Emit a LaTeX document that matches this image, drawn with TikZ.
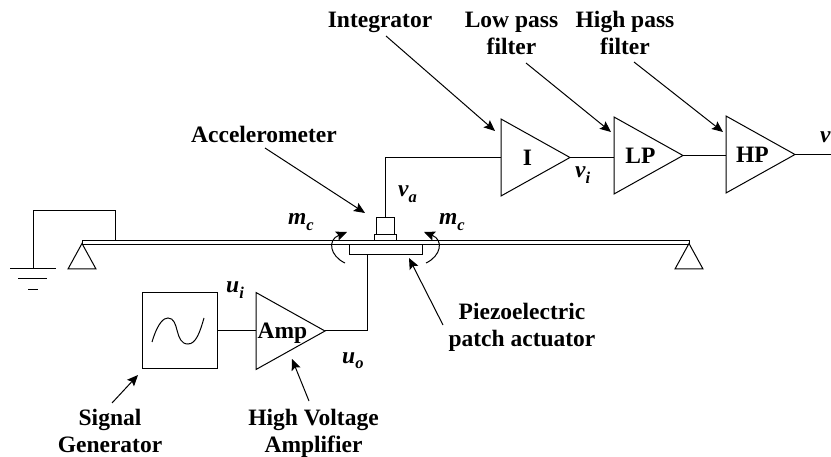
\documentclass[tikz,border=0pt]{standalone}
\usepackage{fontspec}
\setmainfont{Liberation Serif}
\usetikzlibrary{arrows.meta}
\usetikzlibrary{shapes.geometric}
\newcommand{\sigsym}[2]{{\bfseries\itshape #1\raisebox{-.22em}{\fontsize{16.5}{16.5}\selectfont #2}}}
\tikzset{
	wire/.style={line width=1pt},
	pointer/.style={line width=1pt,-{Stealth[length=11pt,width=9.5pt,inset=2pt]}},
	capt/.style={font=\fontsize{23.5}{27}\selectfont\bfseries,align=center,anchor=base,inner sep=0pt},
	amptri/.style={draw,line width=1pt,isosceles triangle,isosceles triangle stretches,shape border rotate=0,
		minimum width=77pt,minimum height=69pt,inner sep=0pt,outer sep=0pt,anchor=lower side},
	part/.style={draw,line width=1pt,fill=white,rectangle,inner sep=0pt,outer sep=0pt}
}
\begin{document}
\begin{tikzpicture}[x=1pt,y=-1pt]
	\useasboundingbox (0,0) rectangle (831,457);
	% beam and what sits on it
	\node[part,minimum width=607pt,minimum height=3.5pt] (beam) at (385.5,242.5) {};
	\node[part,minimum width=73pt,minimum height=10pt] (patch) at (385.5,250) {};
	\node[part,minimum width=22pt,minimum height=6pt] (base) at (385,237.5) {};
	\node[part,minimum width=18pt,minimum height=17pt] (sensor) at (385,226) {};
	\foreach \x in {82,689} {
		\draw[wire] (\x,243.5) -- (\x-14,269) -- (\x+14,269) -- cycle;
	}
	% ground
	\coordinate (gnd) at (33,269);
	\coordinate (beamtap) at (115,241);
	\draw[wire] (gnd) -- (33,211) -- (115,211) -- (beamtap);
	\draw[wire] (10,269) -- (56,269);
	\draw[wire] (18,279) -- (47,279);
	\draw[wire] (28,290) -- (38,290);
	% triangles
	\foreach \n/\t/\x/\y in {int/I/501/157.5,low/LP/614/155.5,high/HP/726/154.5,amp/Amp/256/331} {
		\node[amptri] (\n) at (\x,\y) {};
		\node[capt] (\n text) at (\x+26.5,\y+8) {\t};
	}
	% generator
	\node[part,minimum width=75pt,minimum height=76pt] (gen) at (179.5,331) {};
	\draw[wire] (152,342) .. controls (158,322) and (164,318) .. (168,318) .. controls (180,318) and (174,344) .. (188,344) .. controls (196,344) and (200,332) .. (204,318);
	% connections
	\coordinate (patchwire) at (367,255);
	\coordinate (vout) at (831,154.5);
	\draw[wire] (sensor.north) |- (int.lower side);
	\draw[wire] (int.apex) -- (low.lower side |- int.apex);
	\draw[wire] (low.apex) -- (high.lower side |- low.apex);
	\draw[wire] (high.apex) -- (vout);
	\draw[wire] (gen.east) -- (amp.lower side);
	\draw[wire] (amp.apex) -| (patchwire);
	% captions
	\node[capt] (lblint) at (380,28) {Integrator};
	\node[capt] (lbllow) at (511.5,55) {Low pass\\filter};
	\node[capt] (lblhigh) at (625,55) {High pass\\filter};
	\node[capt] (lblacc) at (264,143) {Accelerometer};
	\node[capt] (lblpiezo) at (522,347) {Piezoelectric\\patch actuator};
	\node[capt] (lblsig) at (110,452) {Signal\\Generator};
	\node[capt] (lblhv) at (313.5,452) {High Voltage\\Amplifier};
	% symbols
	\node[capt,anchor=base west] (ua) at (398,197) {\sigsym{v}{a}};
	\node[capt,anchor=base west] (mcl) at (288,225) {\sigsym{m}{c}};
	\node[capt,anchor=base west] (mcr) at (439,225) {\sigsym{m}{c}};
	\node[capt,anchor=base west] (ui) at (226,293) {\sigsym{u}{i}};
	\node[capt,anchor=base west] (uo) at (342,363) {\sigsym{u}{o}};
	\node[capt,anchor=base west] (vi) at (575,178) {\sigsym{v}{i}};
	\node[capt,anchor=base west] (vo) at (820,143) {\sigsym{v}{}};
	% pointers
	\coordinate (pint) at (386,36);
	\coordinate (plow) at (526,63);
	\coordinate (phigh) at (634,62);
	\coordinate (pacc) at (265,148);
	\coordinate (ppiezo) at (443,325);
	\coordinate (psig) at (112,403);
	\coordinate (phv) at (309,401);
	\draw[pointer] (pint) -- (495,131);
	\draw[pointer] (plow) -- (611,132);
	\draw[pointer] (phigh) -- (723,132);
	\draw[pointer] (pacc) -- (365,213);
	\draw[pointer] (ppiezo) -- (409,258);
	\draw[pointer] (psig) -- (138,375);
	\draw[pointer] (phv) -- (292,359);
	% moments
	\draw[pointer] (345,263) .. controls (330,256) and (327,240) .. (347,232);
	\draw[pointer] (426,263) .. controls (441,256) and (444,240) .. (424,232);
\end{tikzpicture}
\end{document}
